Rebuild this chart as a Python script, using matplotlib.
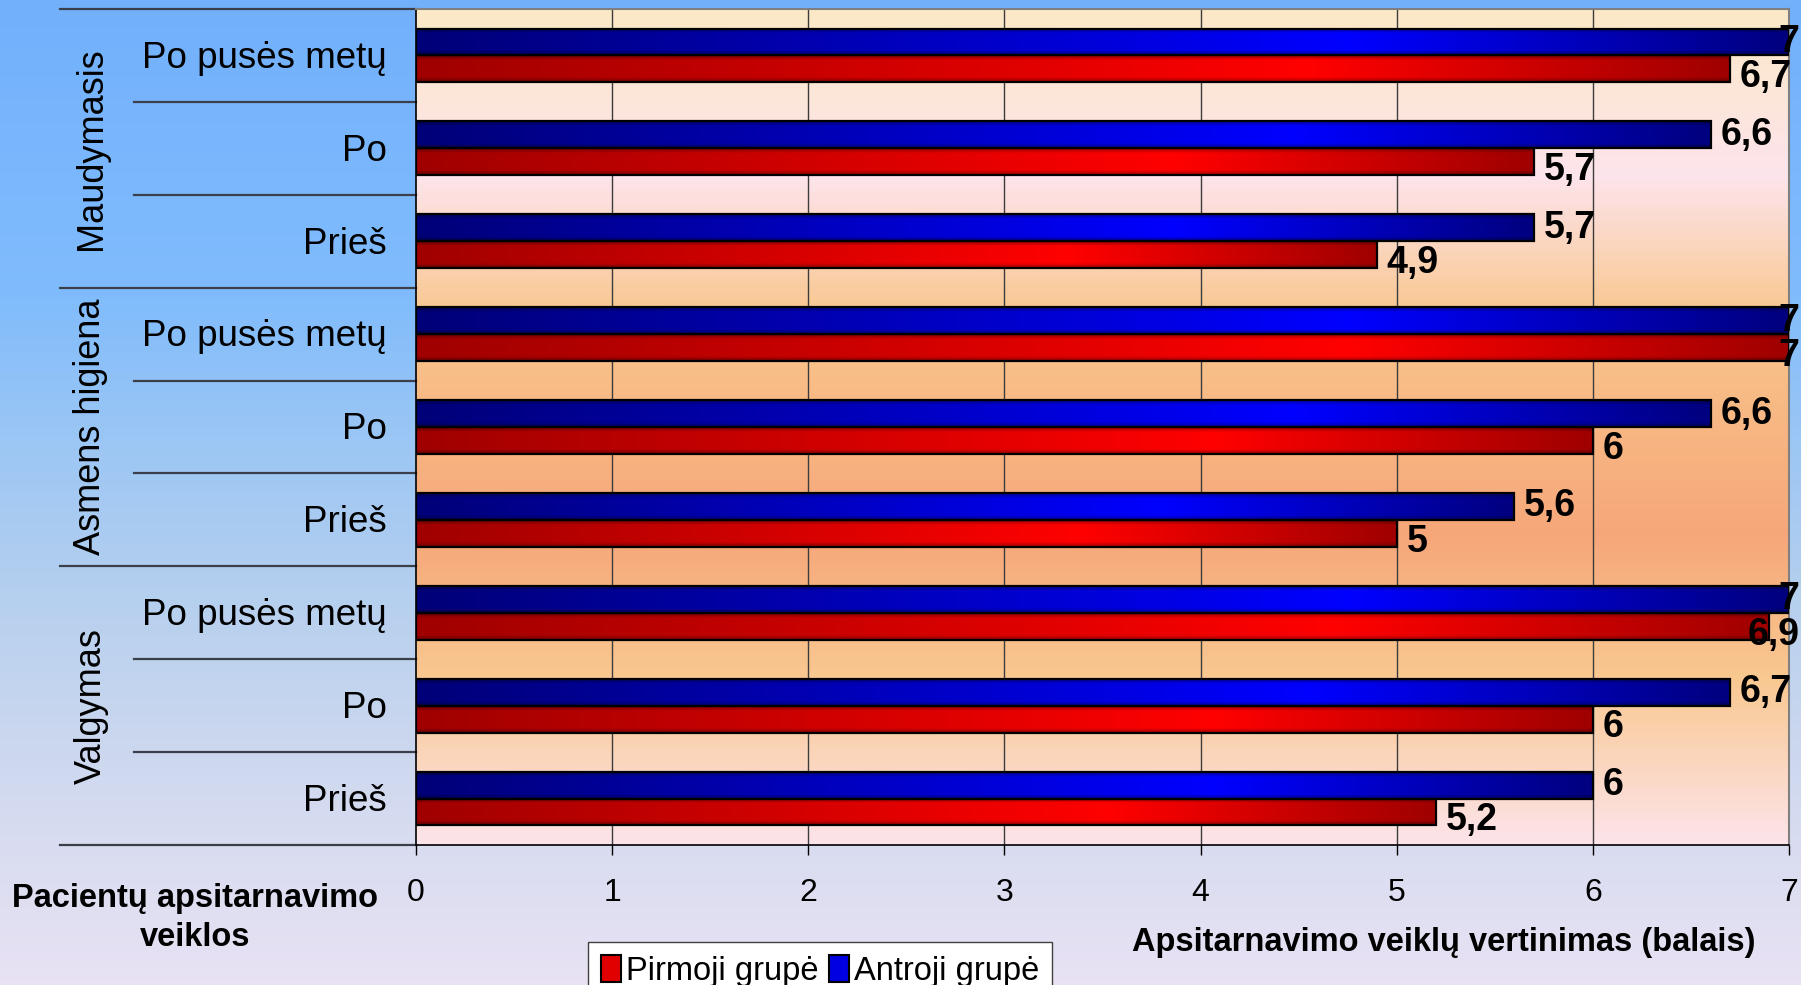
import numpy as np
import matplotlib
matplotlib.use("Agg")
import matplotlib.pyplot as plt
from matplotlib.colors import LinearSegmentedColormap, to_rgb
from matplotlib.patches import Patch
from matplotlib.transforms import blended_transform_factory

plt.rcParams["font.family"] = ["Liberation Sans", "DejaVu Sans"]

# data (rows top to bottom)
groups = ["Maudymasis", "Asmens higiena", "Valgymas"]
periods = ["Po pusės metų", "Po", "Prieš"]
antroji = [7, 6.6, 5.7, 7, 6.6, 5.6, 7, 6.7, 6]
pirmoji = [6.7, 5.7, 4.9, 7, 6, 5, 6.9, 6, 5.2]
xticks = [0, 1, 2, 3, 4, 5, 6, 7]

W, H = 1801, 985
fig = plt.figure(figsize=(W / 100, H / 100), dpi=100)

# figure background gradient
bg = fig.add_axes([0, 0, 1, 1])
bg.set_zorder(-1)
bg.axis("off")
bg_cmap = LinearSegmentedColormap.from_list("bg", [
    (0.0, "#72b0fc"), (0.3, "#80bcfc"), (0.45, "#9cc6f4"),
    (0.65, "#bcd2ee"), (0.85, "#d8dcf0"), (1.0, "#e8e2f4")])
bg.imshow(np.linspace(0, 1, 256).reshape(-1, 1), cmap=bg_cmap,
          aspect="auto", extent=(0, 1, 0, 1))
bg.set_xlim(0, 1)
bg.set_ylim(0, 1)

L, R, T, B = 416, 1789, 9, 845
ax = fig.add_axes([L / W, 1 - B / H, (R - L) / W, (B - T) / H])

n = len(antroji)
ypos = np.arange(n)
ylim = (n - 0.5, -0.5)

# plot area gradient
pa_cmap = LinearSegmentedColormap.from_list("pa", [
    (0.0, "#fbe9c6"), (0.2, "#fde4ec"), (0.37, "#f9c68c"),
    (0.63, "#f6a77a"), (0.8, "#f9c890"), (1.0, "#fde4ea")])
ax.imshow(np.linspace(0, 1, 256).reshape(-1, 1), cmap=pa_cmap, aspect="auto",
          extent=(0, 7, ylim[0], ylim[1]), zorder=0)

for xv in xticks[1:-1]:
    ax.axvline(xv, color="#3c3c3c", lw=1, zorder=1)

h = 0.29
b_blue = ax.barh(ypos - h / 2, antroji, height=h, facecolor="none",
                 edgecolor="black", lw=1.6, zorder=3)
b_red = ax.barh(ypos + h / 2, pirmoji, height=h, facecolor="none",
                edgecolor="black", lw=1.6, zorder=3)


def gradient(dark, bright, dark2):
    t = np.linspace(0, 1, 200)
    d, b, d2 = (np.array(to_rgb(c)) for c in (dark, bright, dark2))
    k1 = np.clip(t / 0.68, 0, 1)[:, None]
    k2 = np.clip((t - 0.68) / 0.32, 0, 1)[:, None]
    row = np.where(t[:, None] <= 0.68, d + (b - d) * k1, b + (d2 - b) * k2)
    s = np.linspace(0, 1, 40)
    v = np.clip(np.minimum(s, 1 - s) / 0.18, 0, 1) * 0.35 + 0.65
    return np.clip(v[:, None, None] * row[None, :, :], 0, 1)


grad_blue = gradient("#000078", "#0000ff", "#000080")
grad_red = gradient("#a00000", "#ff0000", "#a00000")
for bars, g in ((b_blue, grad_blue), (b_red, grad_red)):
    for p in bars:
        x0, y0, w, hh = p.get_x(), p.get_y(), p.get_width(), p.get_height()
        im = ax.imshow(g, aspect="auto", extent=(x0, x0 + w, y0 + hh, y0),
                       zorder=2)
        im.set_clip_path(p)

ax.set_xlim(0, 7)
ax.set_ylim(*ylim)
ax.set_yticks([])
ax.set_xticks(xticks)
ax.tick_params(axis="x", direction="out", length=7, width=1, pad=17,
               labelsize=23)
for s in ("top", "right"):
    ax.spines[s].set_color("#808080")
    ax.spines[s].set_linewidth(1.5)
for s in ("left", "bottom"):
    ax.spines[s].set_color("black")
    ax.spines[s].set_linewidth(1.2)


def fmt(v):
    return f"{v:g}".replace(".", ",")


for i in range(n):
    for v, yy, dy in ((antroji[i], ypos[i] - h / 2, 0), (pirmoji[i], ypos[i] + h / 2, -6)):
        if v >= 6.9:
            ax.annotate(fmt(v), xy=(0.999, yy), xycoords=("figure fraction", "data"),
                        xytext=(0, dy), textcoords="offset points", ha="right",
                        va="center", fontsize=27, fontweight="bold",
                        annotation_clip=False, zorder=5)
        else:
            ax.annotate(fmt(v), xy=(v, yy), xytext=(7, dy),
                        textcoords="offset points", ha="left", va="center",
                        fontsize=27, fontweight="bold", annotation_clip=False,
                        zorder=5)

# left side table
tr = blended_transform_factory(fig.transFigure, ax.transData)
lc = "#3a3f4a"
for yb in (-0.5, 2.5, 5.5, 8.5):
    ax.plot([60 / W, L / W], [yb, yb], transform=tr, color=lc, lw=1.6,
            clip_on=False)
for gi in range(3):
    for k in (0.5, 1.5):
        yb = gi * 3 + k
        ax.plot([134 / W, L / W], [yb, yb], transform=tr, color=lc, lw=1.6,
                clip_on=False)
    ax.text(91 / W, gi * 3 + 1, groups[gi], transform=tr, rotation=90,
            ha="center", va="center", fontsize=26)
    for k, per in enumerate(periods):
        ax.text(387 / W, gi * 3 + k + 0.03, per, transform=tr, ha="right",
                va="center", fontsize=26.5)

fig.text(195 / W, 1 - 918 / H, "Pacientų apsitarnavimo\nveiklos", ha="center",
         va="center", fontsize=23.5, fontweight="bold", linespacing=1.33)
fig.text(1444 / W, 1 - 942 / H, "Apsitarnavimo veiklų vertinimas (balais)",
         ha="center", va="center", fontsize=23.5, fontweight="bold")

handles = [Patch(facecolor="#e00000", edgecolor="black", lw=1.5),
           Patch(facecolor="#0000e0", edgecolor="black", lw=1.5)]
leg = fig.legend(handles, ["Pirmoji grupė", "Antroji grupė"], ncol=2,
                 loc="upper left", bbox_to_anchor=(588 / W, 1 - 942 / H),
                 fontsize=23.5, frameon=True, fancybox=False,
                 handlelength=0.6, handleheight=0.9, handletextpad=0.15,
                 columnspacing=0.35, borderpad=0.4, borderaxespad=0)
leg.get_frame().set_edgecolor("#404040")
leg.get_frame().set_facecolor("white")
leg.get_frame().set_alpha(1)

fig.savefig("out.png", dpi=100)
